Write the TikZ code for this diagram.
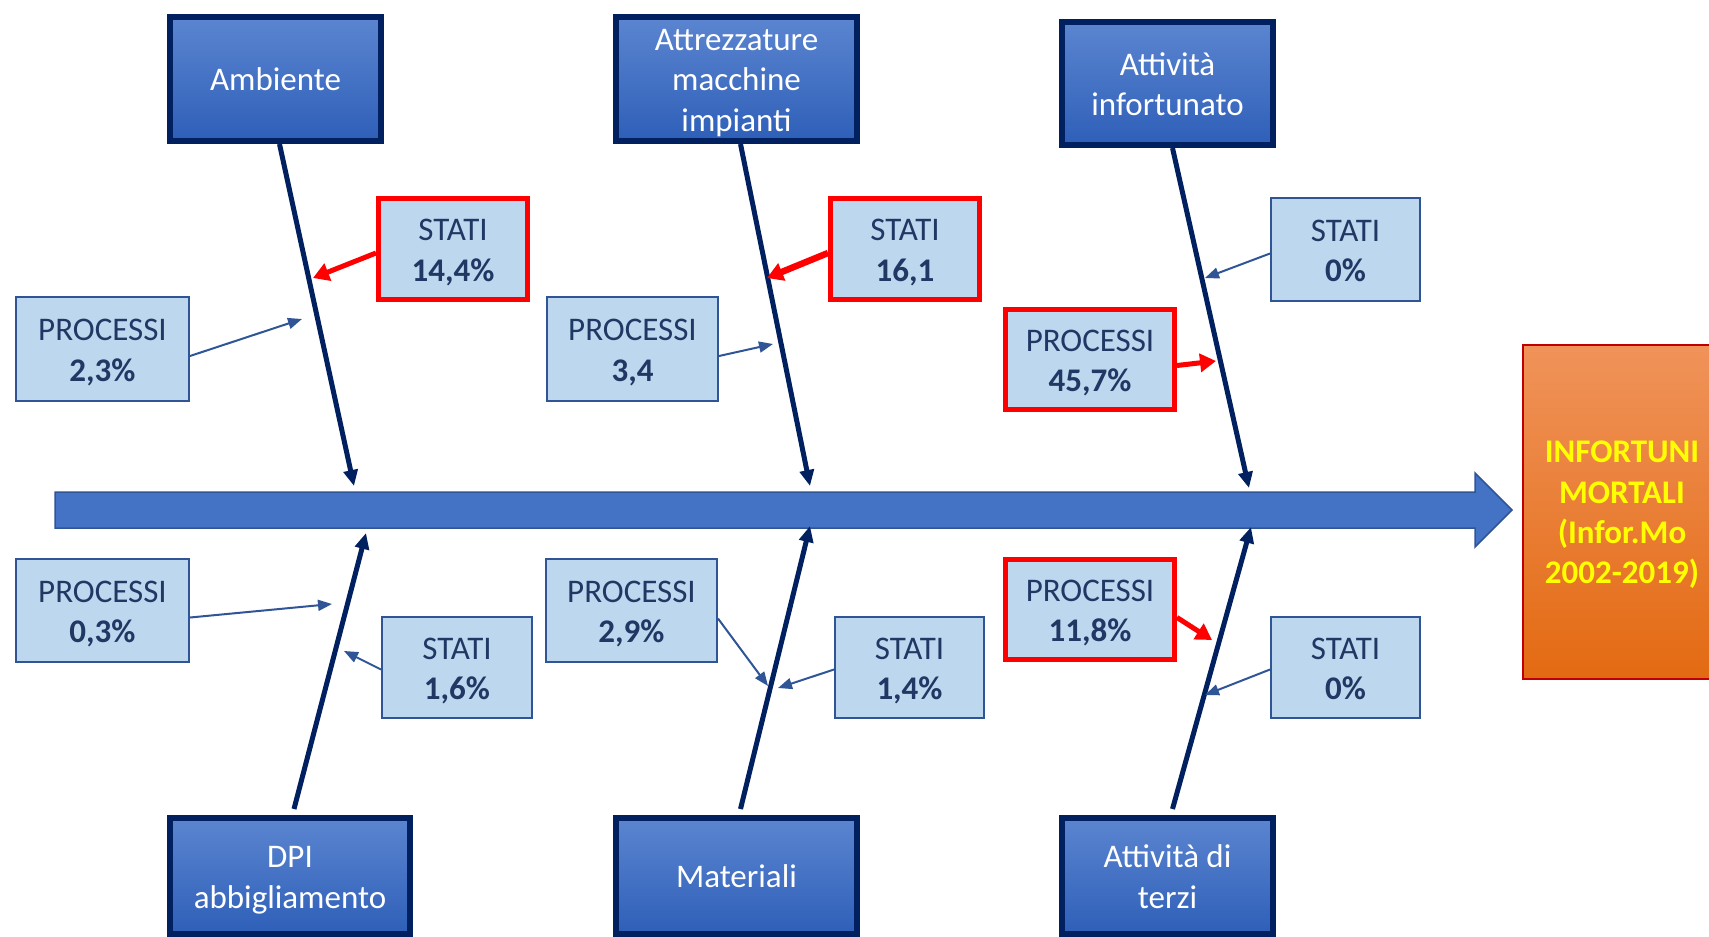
\documentclass[tikz,border=0pt]{standalone}
\usepackage{fontspec}
\setmainfont{Carlito}
\usetikzlibrary{arrows.meta,calc}
\definecolor{navy}{HTML}{002060}
\definecolor{boxtop}{HTML}{5B85D0}
\definecolor{boxbot}{HTML}{2E5FB8}
\definecolor{lightfill}{HTML}{BDD7EE}
\definecolor{lightline}{HTML}{2F5597}
\definecolor{txtdark}{HTML}{1F3864}
\definecolor{spine}{HTML}{4472C4}
\definecolor{redline}{HTML}{FF0000}
\definecolor{ortop}{HTML}{F0935A}
\definecolor{orbot}{HTML}{E36A12}
\definecolor{orline}{HTML}{C00000}
\definecolor{yel}{HTML}{FFFF00}
\newcommand\lnstrut{\rule[-8.25pt]{0pt}{40.25pt}}
\tikzset{
  catbox/.style={rectangle, top color=boxtop, bottom color=boxbot, draw=navy, line width=6pt,
    text=white, align=center, inner sep=0pt, font=\fontsize{33}{40.26}\selectfont},
  subbox/.style={rectangle, fill=lightfill, draw=lightline, line width=2pt,
    text=txtdark, align=center, inner sep=0pt, font=\fontsize{33}{40.26}\selectfont},
  redbox/.style={subbox, draw=redline, line width=5pt},
  bone/.style={draw=navy, line width=5pt, -{Triangle[length=16pt,width=14pt]}},
  thinarr/.style={draw=lightline, line width=2pt, -{Triangle[length=14pt,width=11pt]}},
  redarr/.style={draw=redline, line width=5pt, -{Triangle[length=16pt,width=18pt]}},
}
\begin{document}
\begin{tikzpicture}[x=1pt,y=-1pt]
\useasboundingbox (0,0) rectangle (1709,937);
% spine arrow
\filldraw[fill=spine, draw=lightline, line width=1.5pt]
  (55,492) -- (1475,492) -- (1475,473) -- (1512,510) -- (1475,547) -- (1475,528) -- (55,528) -- cycle;
% result
\node[rectangle, top color=ortop, bottom color=orbot, draw=orline, line width=2pt,
  minimum width=198pt, minimum height=334pt, inner sep=0pt, align=center, text=yel,
  font=\bfseries\fontsize{33}{40.26}\selectfont] (res) at (1622,511.5)
  {\lnstrut INFORTUNI\\MORTALI\\(Infor.Mo\\2002-2019)\lnstrut};
% category boxes
\node[catbox, minimum width=211pt, minimum height=124pt] (amb) at (275.5,79) {\lnstrut Ambiente};
\node[catbox, minimum width=241pt, minimum height=124pt] (att) at (736.5,79) {\lnstrut Attrezzature\\macchine\\impianti\lnstrut};
\node[catbox, minimum width=211pt, minimum height=123pt] (ainf) at (1167.5,83.5) {\lnstrut Attività\\infortunato\lnstrut};
\node[catbox, minimum width=240pt, minimum height=116pt] (dpi) at (290,876) {\lnstrut DPI\\abbigliamento\lnstrut};
\node[catbox, minimum width=241pt, minimum height=116pt] (mat) at (736.5,876) {\lnstrut Materiali};
\node[catbox, minimum width=211pt, minimum height=116pt] (ater) at (1167.5,876) {\lnstrut Attività di\\terzi\lnstrut};
% sub boxes
\node[subbox, minimum width=173pt, minimum height=104pt] (p1) at (102.5,349) {\lnstrut PROCESSI\\\textbf{2,3\%}\lnstrut};
\node[redbox, minimum width=149pt, minimum height=101pt] (s1) at (453,249) {\lnstrut STATI\\\textbf{14,4\%}\lnstrut};
\node[subbox, minimum width=171pt, minimum height=104pt] (p2) at (632.5,349) {\lnstrut PROCESSI\\\textbf{3,4}\lnstrut};
\node[redbox, minimum width=149pt, minimum height=101pt] (s2) at (905,249) {\lnstrut STATI\\\textbf{16,1}\lnstrut};
\node[subbox, minimum width=149pt, minimum height=103pt] (s3) at (1345.5,249.5) {\lnstrut STATI\\\textbf{0\%}\lnstrut};
\node[redbox, minimum width=169pt, minimum height=100pt] (p3) at (1090,359.5) {\lnstrut PROCESSI\\\textbf{45,7\%}\lnstrut};
\node[subbox, minimum width=173pt, minimum height=103pt] (p4) at (102.5,610.5) {\lnstrut PROCESSI\\\textbf{0,3\%}\lnstrut};
\node[subbox, minimum width=150pt, minimum height=101pt] (s4) at (457,667.5) {\lnstrut STATI\\\textbf{1,6\%}\lnstrut};
\node[subbox, minimum width=171pt, minimum height=103pt] (p5) at (631.5,610.5) {\lnstrut PROCESSI\\\textbf{2,9\%}\lnstrut};
\node[subbox, minimum width=149pt, minimum height=101pt] (s5) at (909.5,667.5) {\lnstrut STATI\\\textbf{1,4\%}\lnstrut};
\node[redbox, minimum width=169pt, minimum height=100pt] (p6) at (1090,609.5) {\lnstrut PROCESSI\\\textbf{11,8\%}\lnstrut};
\node[subbox, minimum width=149pt, minimum height=101pt] (s6) at (1345.5,667.5) {\lnstrut STATI\\\textbf{0\%}\lnstrut};
% bone end points
\coordinate (e1) at (354,486);
\coordinate (e2) at (810,486);
\coordinate (e3) at (1249,488);
\coordinate (e4) at (366,533);
\coordinate (e5) at (810,526);
\coordinate (e6) at (1251,527);
\draw[bone] ($(amb.south)+(4,0)$) -- (e1);
\draw[bone] ($(att.south)+(4,0)$) -- (e2);
\draw[bone] ($(ainf.south)+(5,0)$) -- (e3);
\draw[bone] ($(dpi.north)+(4,-6)$) -- (e4);
\draw[bone] ($(mat.north)+(4,-6)$) -- (e5);
\draw[bone] ($(ater.north)+(5,-6)$) -- (e6);
% small arrow targets
\coordinate (t1) at (302,319);
\coordinate (t2) at (313,278);
\coordinate (t3) at (773,344);
\coordinate (t4) at (767,278);
\coordinate (t5) at (1205,278);
\coordinate (t6) at (1216,361);
\coordinate (t7) at (332,604);
\coordinate (t8) at (344,651);
\coordinate (t9) at (768,686);
\coordinate (t10) at (778,688);
\coordinate (t11) at (1212,640);
\coordinate (t12) at (1205,695);
\draw[thinarr] ($(p1.east)+(0,7)$) -- (t1);
\draw[redarr] ($(s1.west)+(0,4)$) -- (t2);
\draw[thinarr] ($(p2.east)+(0,7)$) -- (t3);
\draw[redarr, line width=6.5pt] ($(s2.west)+(0,4)$) -- (t4);
\draw[thinarr] ($(s3.west)+(0,4)$) -- (t5);
\draw[redarr] ($(p3.east)+(0,6)$) -- (t6);
\draw[thinarr] ($(p4.east)+(0,7)$) -- (t7);
\draw[thinarr] ($(s4.west)+(0,2)$) -- (t8);
\draw[thinarr] ($(p5.east)+(0,8)$) -- (t9);
\draw[thinarr] ($(s5.west)+(0,2)$) -- (t10);
\draw[redarr] ($(p6.east)+(0,8)$) -- (t11);
\draw[thinarr] ($(s6.west)+(0,2)$) -- (t12);
\end{tikzpicture}
\end{document}
